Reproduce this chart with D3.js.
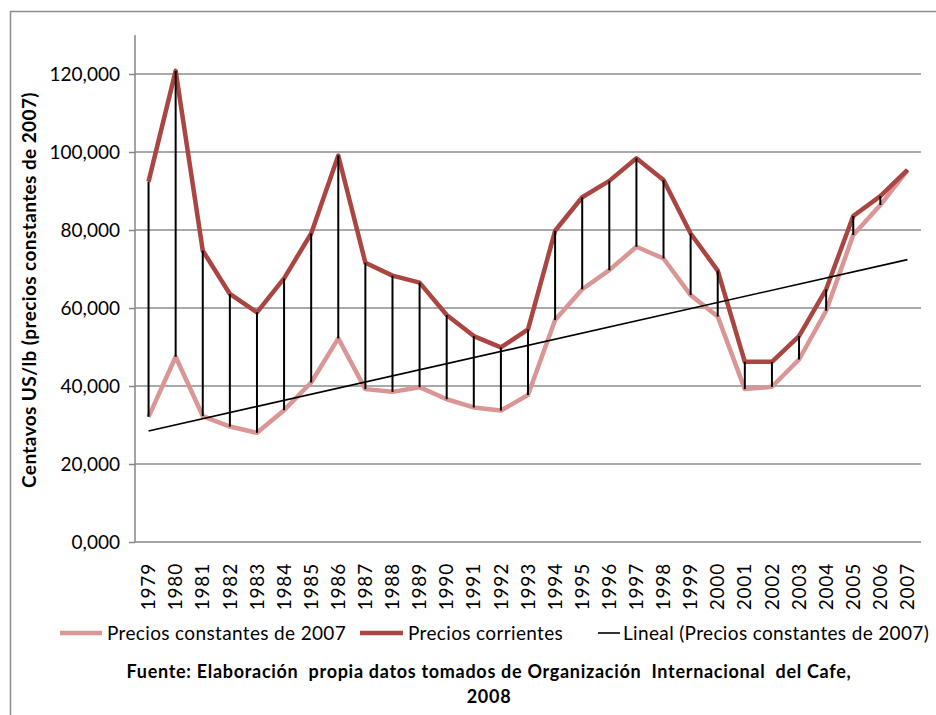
<!DOCTYPE html>
<html lang="es">
    <head>
        <meta charset="utf-8">
        <title>Precios del café 1979-2007</title>
        <script src="https://d3js.org/d3.v7.min.js" charset="utf-8"></script>
        <style>
        body {
            margin: 0;
            background: #fff;
            font-family: Lato, "Open Sans", sans-serif;
        }
        svg text {
            fill: #000;
        }
        .grid line {
            stroke: #8c8c8c;
            stroke-width: 1.5;
        }
        .axis path,
        .axis line {
            fill: none;
            stroke: #868686;
            stroke-width: 1.5;
        }
        </style>
    </head>
    <body>
        <div id="vis_container"></div>
        <script type="text/javascript">
            // datos (miles, centavos US/lb)
            var anios = ["1979","1980","1981","1982","1983","1984","1985","1986","1987","1988",
                         "1989","1990","1991","1992","1993","1994","1995","1996","1997","1998",
                         "1999","2000","2001","2002","2003","2004","2005","2006","2007"];
            var preciosConstantes = [32.1, 47.5, 32.3, 29.6, 28.0, 33.8, 40.9, 52.2, 39.2, 38.5,
                                     39.7, 36.6, 34.5, 33.7, 37.7, 56.9, 64.8, 69.7, 75.7, 72.7,
                                     63.3, 57.8, 39.2, 39.8, 46.8, 59.3, 78.7, 86.4, 95.3];
            var preciosCorrientes = [92.4, 120.8, 74.7, 63.6, 58.9, 67.6, 79.1, 99.1, 71.6, 68.3,
                                     66.5, 58.2, 52.8, 49.9, 54.5, 79.8, 88.4, 92.6, 98.4, 92.8,
                                     79.1, 69.6, 46.2, 46.2, 52.8, 64.8, 83.6, 88.7, 95.4];
            var yTicks = [0, 20, 40, 60, 80, 100, 120];
            var nombresSeries = ["Precios constantes de 2007", "Precios corrientes",
                                 "Lineal (Precios constantes de 2007)"];

            var colorConst = "#d99694",
                colorCorr = "#ab4541";

            var W = 936, H = 715;
            var margin = {top: 35, right: 15, bottom: 173, left: 135},
                width = W - margin.left - margin.right,
                height = H - margin.top - margin.bottom;

            var svg = d3.select("#vis_container")
              .append("svg")
                .attr("width", W)
                .attr("height", H);

            // marco exterior del grafico
            svg.append("rect")
                .attr("x", 10.5).attr("y", 11.5)
                .attr("width", W + 20).attr("height", H + 20)
                .attr("fill", "none")
                .attr("stroke", "#8c8c8c")
                .attr("stroke-width", 1.5);

            var canvas = svg.append("g")
                .attr("transform", "translate(" + margin.left + "," + margin.top + ")");

            var xScale = d3.scaleBand()
                .domain(anios)
                .range([0, width]);
            var xc = function(d) { return xScale(d) + xScale.bandwidth() / 2; };

            var yScale = d3.scaleLinear()
                .domain([0, 130])
                .range([height, 0]);

            // lineas de cuadricula
            canvas.append("g")
                .attr("class", "grid")
                .selectAll("line")
                .data(yTicks.slice(1))
              .enter().append("line")
                .attr("x1", 0).attr("x2", width)
                .attr("y1", function(d) { return yScale(d); })
                .attr("y2", function(d) { return yScale(d); });

            var yAxis = d3.axisLeft(yScale)
                .tickValues(yTicks)
                .tickSize(6)
                .tickPadding(9)
                .tickFormat(function(d) { return d === 0 ? "0,000" : d + ",000"; });
            var gy = canvas.append("g")
                .attr("class", "y axis")
                .call(yAxis);
            gy.select(".domain").attr("d", "M0," + height + "V0");
            gy.selectAll("text")
                .style("font-family", "Lato")
                .style("font-size", "19px")
                .attr("fill", "#000");

            var xAxis = d3.axisBottom(xScale).tickSize(0);
            var gx = canvas.append("g")
                .attr("class", "x axis")
                .attr("transform", "translate(0," + height + ")")
                .call(xAxis);
            gx.select(".domain").attr("d", "M0,0H" + width);
            gx.selectAll("text")
                .style("font-family", "Lato")
                .style("font-size", "19px")
                .style("letter-spacing", "0.8px")
                .attr("fill", "#000")
                .attr("transform", "rotate(-90)")
                .attr("x", -21)
                .attr("y", 0)
                .attr("dy", "0.35em")
                .style("text-anchor", "end");

            // series
            var linea = function(vals) {
                return d3.line()
                    .x(function(d, i) { return xc(anios[i]); })
                    .y(function(d) { return yScale(d); })(vals);
            };
            canvas.append("path")
                .attr("d", linea(preciosConstantes))
                .attr("fill", "none")
                .attr("stroke", colorConst)
                .attr("stroke-width", 4.5)
                .attr("stroke-linejoin", "round");
            canvas.append("path")
                .attr("d", linea(preciosCorrientes))
                .attr("fill", "none")
                .attr("stroke", colorCorr)
                .attr("stroke-width", 4.5)
                .attr("stroke-linejoin", "round");

            // tendencia lineal (minimos cuadrados sobre precios constantes)
            var n = preciosConstantes.length,
                xm = (n - 1) / 2,
                ym = d3.mean(preciosConstantes),
                sxy = 0, sxx = 0;
            preciosConstantes.forEach(function(v, i) {
                sxy += (i - xm) * (v - ym);
                sxx += (i - xm) * (i - xm);
            });
            var pendiente = sxy / sxx,
                inter = ym - pendiente * xm;
            canvas.append("line")
                .attr("x1", xc(anios[0]))
                .attr("y1", yScale(inter))
                .attr("x2", xc(anios[n - 1]))
                .attr("y2", yScale(inter + pendiente * (n - 1)))
                .attr("stroke", "#000")
                .attr("stroke-width", 1.6);

            // lineas de maximo-minimo
            canvas.append("g")
                .selectAll("line")
                .data(anios)
              .enter().append("line")
                .attr("x1", function(d) { return xc(d); })
                .attr("x2", function(d) { return xc(d); })
                .attr("y1", function(d, i) { return yScale(preciosCorrientes[i]); })
                .attr("y2", function(d, i) { return yScale(preciosConstantes[i]); })
                .attr("stroke", "#000")
                .attr("stroke-width", 2);

            // eje y titulo
            svg.append("text")
                .attr("transform", "translate(36,290) rotate(-90)")
                .style("text-anchor", "middle")
                .style("font-family", "Lato")
                .style("font-weight", "bold")
                .style("font-size", "19px")
                .style("letter-spacing", "0.4px")
                .text("Centavos US/lb (precios constantes de 2007)");

            // leyenda
            var leyenda = svg.append("g").attr("transform", "translate(0,633)");
            var items = [
                {x1: 60, x2: 102, color: colorConst, w: 4.5, tx: 107},
                {x1: 360, x2: 403, color: colorCorr, w: 4.5, tx: 408},
                {x1: 598, x2: 620, color: "#000", w: 1.6, tx: 623}
            ];
            items.forEach(function(it, i) {
                leyenda.append("line")
                    .attr("x1", it.x1).attr("x2", it.x2)
                    .attr("y1", 0).attr("y2", 0)
                    .attr("stroke", it.color)
                    .attr("stroke-width", it.w);
                leyenda.append("text")
                    .attr("x", it.tx)
                    .attr("y", 0)
                    .attr("dy", "0.35em")
                    .style("font-family", "Lato")
                    .style("font-size", "19px")
                    .style("letter-spacing", "0.35px")
                    .text(nombresSeries[i]);
            });

            // fuente
            svg.append("text")
                .attr("x", 489).attr("y", 678)
                .style("text-anchor", "middle")
                .style("font-family", "Lato")
                .style("font-weight", "bold")
                .style("font-size", "18px")
                .style("letter-spacing", "0.7px")
                .style("white-space", "pre")
                .text("Fuente: Elaboración  propia datos tomados de Organización  Internacional  del Cafe,");
            svg.append("text")
                .attr("x", 489).attr("y", 703)
                .style("text-anchor", "middle")
                .style("font-family", "Lato")
                .style("font-weight", "bold")
                .style("font-size", "18px")
                .style("letter-spacing", "0.7px")
                .text("2008");
        </script>
    </body>
</html>
